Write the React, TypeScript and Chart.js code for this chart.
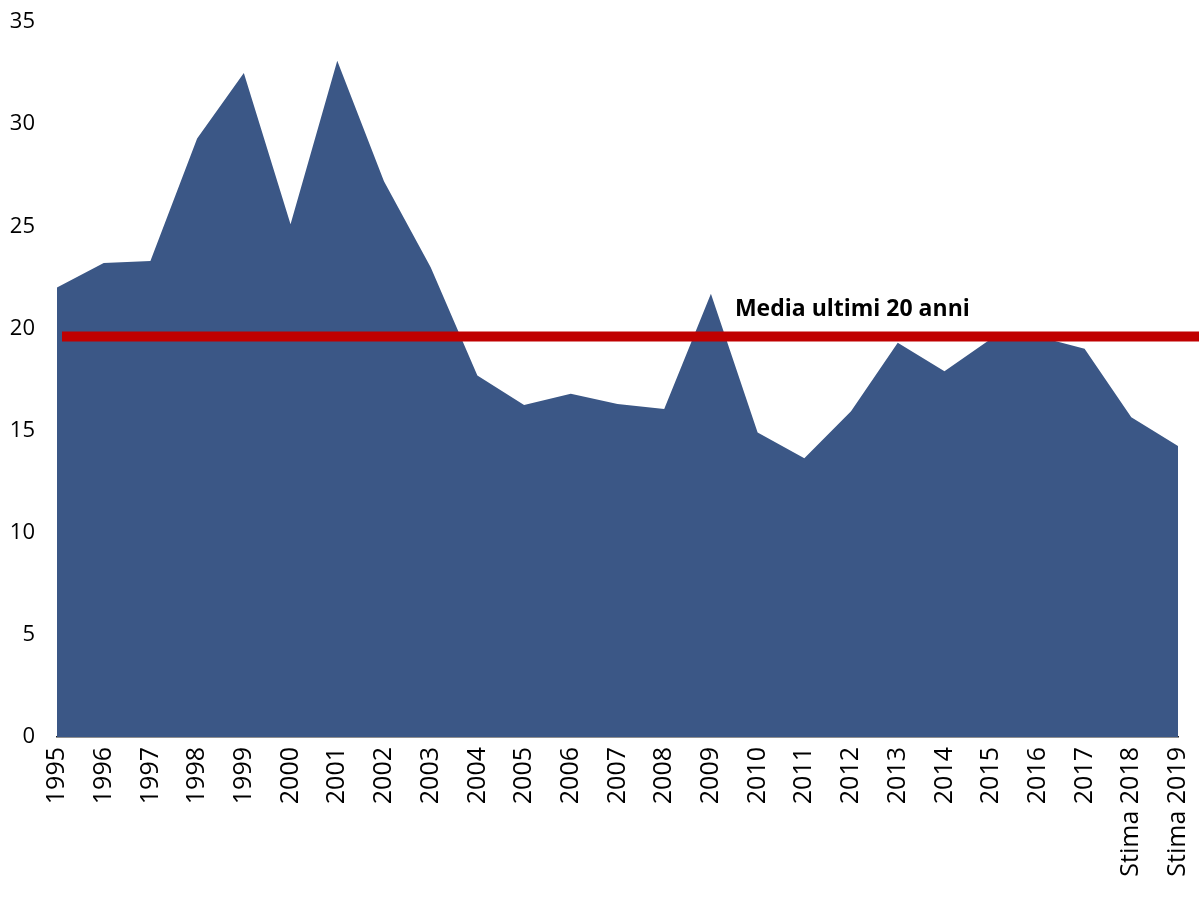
import React, { useEffect, useRef } from "react";
import { Chart, registerables } from "chart.js";

Chart.register(...registerables);

const categories = [
  "1995", "1996", "1997", "1998", "1999", "2000", "2001", "2002", "2003", "2004",
  "2005", "2006", "2007", "2008", "2009", "2010", "2011", "2012", "2013", "2014",
  "2015", "2016", "2017", "Stima 2018", "Stima 2019",
];
const values = [
  22.0, 23.2, 23.3, 29.3, 32.5, 25.1, 33.1, 27.2, 23.0, 17.7,
  16.25, 16.8, 16.3, 16.05, 21.7, 14.9, 13.65, 15.95, 19.3, 17.9,
  19.5, 19.6, 19.0, 15.65, 14.25,
];
const mediaValue = 19.6;
const mediaLabel = "Media ultimi 20 anni";
const yTicks = [0, 5, 10, 15, 20, 25, 30, 35];

const mediaPlugin = {
  id: "mediaLine",
  afterDatasetsDraw(chart: any) {
    const { ctx, chartArea, scales } = chart;
    const y = scales.y.getPixelForValue(mediaValue);
    ctx.save();
    ctx.strokeStyle = "#C00000";
    ctx.lineWidth = 10;
    ctx.beginPath();
    ctx.moveTo(chartArea.left + 5, y);
    ctx.lineTo(chart.width - 2, y);
    ctx.stroke();
    const tx = scales.x.getPixelForValue(14) + 24;
    ctx.fillStyle = "#000";
    ctx.font = "bold 23px 'Open Sans'";
    ctx.textBaseline = "alphabetic";
    ctx.textAlign = "left";
    ctx.fillText(mediaLabel, tx, y - 21);
    ctx.restore();
  },
};

function zeroPad(scale: any) {
  scale.paddingTop = 0;
  scale.paddingBottom = 0;
  scale.paddingLeft = 0;
  scale.paddingRight = 0;
}

export default function App() {
  const ref = useRef<HTMLCanvasElement>(null);
  useEffect(() => {
    document.body.style.margin = "0";
    const chart = new Chart(ref.current!, {
      type: "line",
      data: {
        labels: categories,
        datasets: [
          {
            data: values,
            fill: "origin",
            backgroundColor: "#3B5786",
            borderWidth: 0,
            pointRadius: 0,
            tension: 0,
          },
        ],
      },
      options: {
        responsive: false,
        animation: false,
        layout: { padding: { top: 22, right: 23, left: 0, bottom: 0 } },
        plugins: { legend: { display: false }, tooltip: { enabled: false } },
        scales: {
          x: {
            offset: false,
            grid: { display: false, drawTicks: false },
            border: { display: true, color: "#222", width: 1.5 },
            ticks: {
              minRotation: 90,
              maxRotation: 90,
              autoSkip: false,
              padding: 10,
              color: "#000",
              font: { family: "'Open Sans'", size: 25 },
            },
            afterFit(scale: any) {
              scale.height = 162;
              zeroPad(scale);
            },
          },
          y: {
            min: 0,
            max: 35,
            afterBuildTicks(scale: any) {
              scale.ticks = yTicks.map((v) => ({ value: v }));
            },
            grid: { display: false, drawTicks: false },
            border: { display: false },
            ticks: {
              padding: 22,
              color: "#000",
              font: { family: "'Open Sans'", size: 22 },
            },
            afterFit(scale: any) {
              scale.width = 57;
              zeroPad(scale);
            },
          },
        },
      },
      plugins: [mediaPlugin],
    });
    return () => chart.destroy();
  }, []);
  return <canvas ref={ref} width={1201} height={899} style={{ display: "block" }} />;
}
